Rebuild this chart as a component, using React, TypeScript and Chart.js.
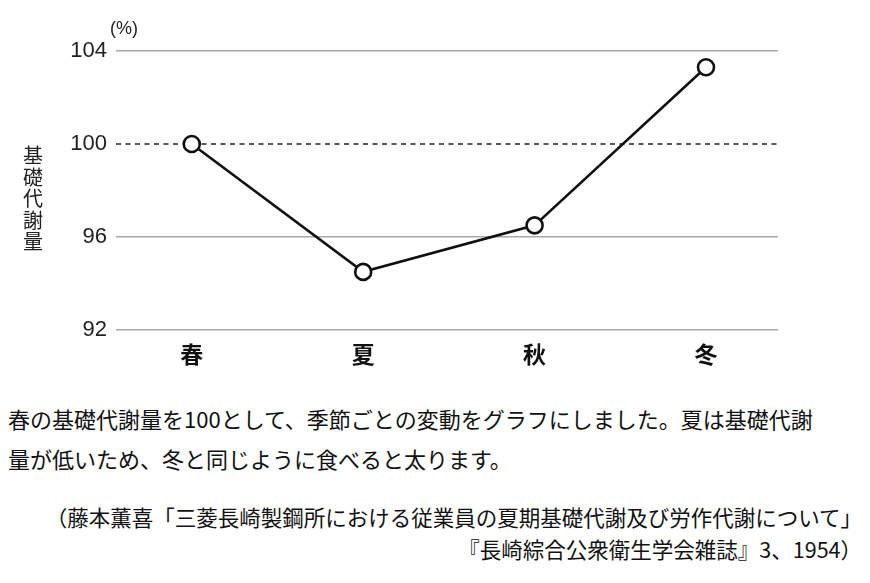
import React, { useEffect, useRef } from 'react'
import { Chart, registerables } from 'chart.js'

Chart.register(...registerables)

// Data
const seasons = ['春', '夏', '秋', '冬']
const metabolism = [100, 94.5, 96.5, 103.3]
const yTicks = [92, 96, 100, 104]
const baseline = 100

const jpFont = '"Noto Sans CJK JP", "Noto Sans", sans-serif'
const numFont = '"Liberation Sans", Arial, sans-serif'

// dashed reference line at the baseline value
const baselinePlugin = {
  id: 'baseline',
  beforeDatasetsDraw(chart: any) {
    const { ctx, chartArea, scales } = chart
    const y = scales.y.getPixelForValue(baseline)
    ctx.save()
    ctx.strokeStyle = '#222'
    ctx.lineWidth = 1.4
    ctx.setLineDash([5, 4.5])
    ctx.beginPath()
    ctx.moveTo(chartArea.left, y)
    ctx.lineTo(chartArea.right, y)
    ctx.stroke()
    ctx.restore()
  }
}

const MetabolismChart: React.FC = () => {
  const canvasRef = useRef<HTMLCanvasElement>(null)

  useEffect(() => {
    if (!canvasRef.current) return
    const chart = new Chart(canvasRef.current, {
      type: 'line',
      data: {
        datasets: [
          {
            data: metabolism.map((v, i) => ({ x: i, y: v })),
            borderColor: '#111',
            borderWidth: 2.6,
            pointRadius: 8,
            pointBorderWidth: 2.6,
            pointBackgroundColor: '#fff',
            pointBorderColor: '#111',
            tension: 0
          }
        ]
      },
      options: {
        responsive: false,
        animation: false,
        layout: { padding: { top: 51, right: 92, left: 0, bottom: 0 } },
        plugins: { legend: { display: false }, tooltip: { enabled: false } },
        scales: {
          x: {
            type: 'linear',
            min: -0.442,
            max: 3.42,
            afterBuildTicks: (scale: any) => {
              scale.ticks = seasons.map((_, i) => ({ value: i }))
            },
            afterFit: (scale: any) => {
              scale.height = 50
            },
            grid: { display: false, drawTicks: false },
            border: { display: false },
            ticks: {
              padding: 10,
              color: '#111',
              maxRotation: 0,
              font: { family: jpFont, size: 23, weight: 'bold' },
              callback: (v: any) => seasons[v] ?? ''
            }
          },
          y: {
            min: 92,
            max: 104,
            afterBuildTicks: (scale: any) => {
              scale.ticks = yTicks.map((v) => ({ value: v }))
            },
            afterFit: (scale: any) => {
              scale.width = 116
            },
            grid: {
              drawTicks: false,
              lineWidth: 1.5,
              color: (ctx: any) => (ctx.tick && ctx.tick.value === baseline ? 'rgba(0,0,0,0)' : '#a8a8a8')
            },
            border: { display: false },
            ticks: {
              padding: 9,
              color: '#222',
              font: { family: numFont, size: 22 }
            }
          }
        }
      },
      plugins: [baselinePlugin]
    } as any)
    return () => chart.destroy()
  }, [])

  return <canvas ref={canvasRef} width={870} height={380} style={{ display: 'block' }} />
}

export default function App() {
  return (
    <div
      style={{
        position: 'absolute',
        left: 0,
        top: 0,
        width: 870,
        height: 583,
        background: '#fff',
        overflow: 'hidden',
        fontFamily: jpFont,
        color: '#111'
      }}
    >
      <MetabolismChart />
      <div style={{ position: 'absolute', left: 110, top: 18, fontSize: 18, fontFamily: numFont, color: '#222' }}>(%)</div>
      <div
        style={{
          position: 'absolute',
          left: 22,
          top: 144,
          width: 22,
          fontSize: 20,
          lineHeight: '21.5px',
          textAlign: 'center',
          color: '#222'
        }}
      >
        {'基礎代謝量'.split('').map((c, i) => (
          <div key={i}>{c}</div>
        ))}
      </div>
      <div style={{ position: 'absolute', left: 8, top: 398, fontSize: 22, lineHeight: '40px' }}>
        <div>春の基礎代謝量を100として、季節ごとの変動をグラフにしました。夏は基礎代謝</div>
        <div>量が低いため、冬と同じように食べると太ります。</div>
      </div>
      <div
        style={{
          position: 'absolute',
          right: 8,
          top: 501,
          fontSize: 21.5,
          lineHeight: '32px',
          textAlign: 'right'
        }}
      >
        <div>（藤本薫喜「三菱長崎製鋼所における従業員の夏期基礎代謝及び労作代謝について」</div>
        <div>『長崎綜合公衆衛生学会雑誌』3、1954）</div>
      </div>
    </div>
  )
}
